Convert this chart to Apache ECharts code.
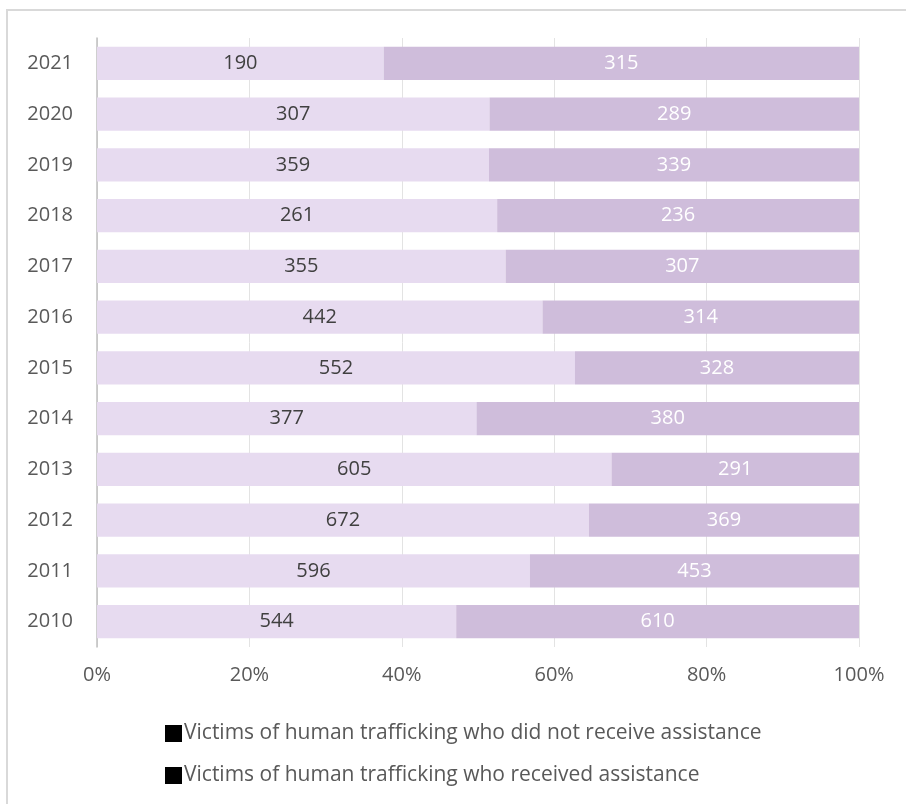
<!DOCTYPE html>
<html>
<head>
<meta charset="utf-8">
<script src="https://cdn.jsdelivr.net/npm/echarts@6/dist/echarts.min.js"></script>
<style>html,body{margin:0;padding:0;background:#fff}#c{width:906px;height:804px}</style>
</head>
<body>
<div id="c"></div>
<script>
var years = ['2010','2011','2012','2013','2014','2015','2016','2017','2018','2019','2020','2021'];
var notReceived = [544,596,672,605,377,552,442,355,261,359,307,190];
var received = [610,453,369,291,380,328,314,307,236,339,289,315];
var xTicks = ['0%','20%','40%','60%','80%','100%'];
var seriesNames = ['Victims of human trafficking who did not receive assistance','Victims of human trafficking who received assistance'];

var pctA = notReceived.map(function(v,i){return v/(v+received[i])*100;});
var pctB = received.map(function(v,i){return v/(v+notReceived[i])*100;});

var chart = echarts.init(document.getElementById('c'), null, {renderer:'canvas'});
var font = '"Open Sans", "Noto Sans", sans-serif';
chart.setOption({
  animation:false,
  textStyle:{fontFamily:font},
  graphic:[{type:'rect',shape:{x:7,y:10,width:920,height:820},style:{fill:'none',stroke:'#D9D9D9',lineWidth:2},z:-10}],
  grid:{left:97,right:47,top:38,bottom:157,containLabel:false},
  xAxis:{type:'value',min:0,max:100,interval:20,
    axisLabel:{formatter:function(v){return xTicks[v/20];},color:'#595959',fontSize:20,margin:18,fontFamily:font},
    axisLine:{show:false},axisTick:{show:false},
    splitLine:{show:true,lineStyle:{color:'#E3E3E3',width:1}}},
  yAxis:{type:'category',data:years,
    axisLabel:{color:'#595959',fontSize:20,margin:24,fontFamily:font},
    axisLine:{show:true,lineStyle:{color:'#BFBFBF',width:1.5}},axisTick:{show:false}},
  legend:{orient:'vertical',left:160,top:718,itemGap:21,itemWidth:17,itemHeight:17,icon:'rect',
    itemStyle:{color:'#000'},
    textStyle:{color:'#595959',fontSize:21,fontFamily:font,padding:[0,0,0,-3]},
    data:seriesNames},
  series:[
    {name:seriesNames[0],type:'bar',stack:'s',barCategoryGap:'34%',data:pctA,
     itemStyle:{color:'#E7DBF0'},
     label:{show:true,position:'inside',color:'#404040',fontSize:20,fontFamily:font,
       formatter:function(p){return notReceived[p.dataIndex];}}},
    {name:seriesNames[1],type:'bar',stack:'s',barCategoryGap:'34%',data:pctB,
     itemStyle:{color:'#CFBDDB'},
     label:{show:true,position:'inside',color:'#FFFFFF',fontSize:20,fontFamily:font,
       formatter:function(p){return received[p.dataIndex];}}}
  ]
});
</script>
</body>
</html>
